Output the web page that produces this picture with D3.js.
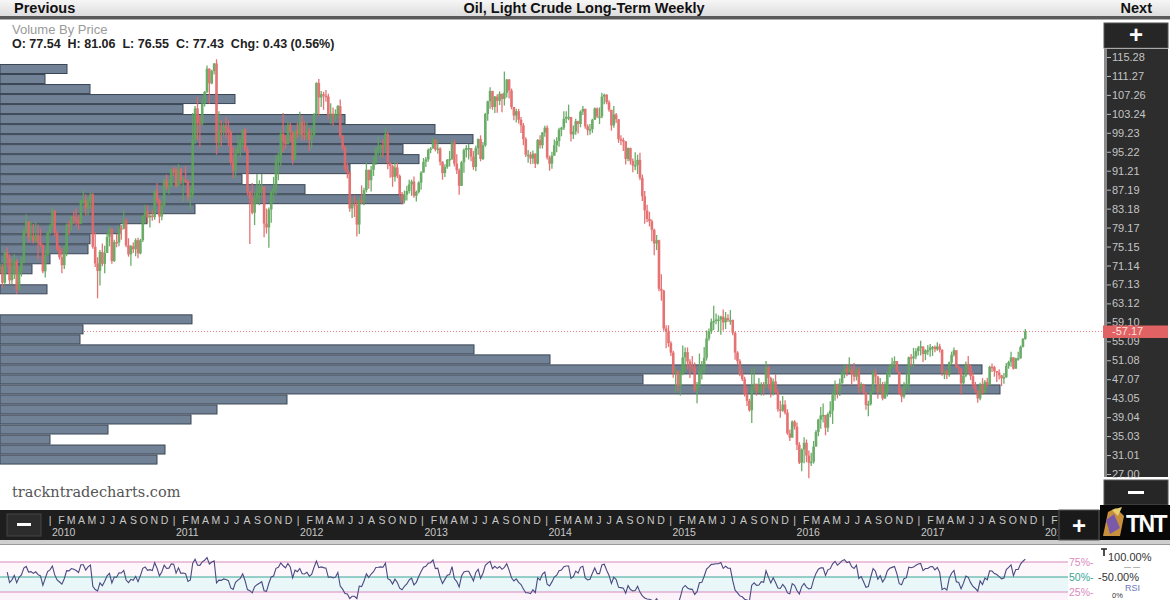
<!DOCTYPE html>
<html><head><meta charset="utf-8">
<script src="https://cdn.jsdelivr.net/npm/d3@7"></script>
<style>
body{margin:0;background:#fff;overflow:hidden}
svg{display:block;font-family:"Liberation Sans",Arial,sans-serif}
</style>
</head><body>
<svg id="chart" width="1170" height="600"></svg>
<script>
// ---------------- DATA ----------------
const chartTitle = "Oil, Light Crude Long-Term Weekly";
const ohlcText = "O: 77.54  H: 81.06  L: 76.55  C: 77.43  Chg: 0.43 (0.56%)";
// weekly bars, one per week starting Friday 2009-08-07
const weeklyClose = [
70.9,67.5,73.9,72.7, 68.0,69.3,72.0,66.0, 69.9,71.8,78.5,80.5,77.0, 77.4,76.4,77.5,76.1, 75.5,69.9,73.4,78.1,
79.4,82.8,78.0,74.5,72.9, 71.2,74.1,79.8,79.7, 81.5,81.2,80.7,80.0, 84.9,84.9,83.2,85.1,86.2, 75.1,71.6,70.0,74.0,
71.5,73.8,77.2,78.9, 72.1,76.1,76.0,79.0,78.9, 80.7,75.4,73.5,75.2, 74.6,76.5,73.7,76.5, 81.6,82.7,81.3,81.7,81.4,
86.9,84.9,81.5,83.8, 89.2,87.8,88.0,91.5,91.4,
88.0,91.5,89.1,89.3, 89.0,85.6,86.2,97.9, 104.4,101.2,101.1,105.4, 107.9,112.8,109.7,112.3,113.9, 97.2,99.7,99.5,100.6,
100.2,99.3,93.0,91.2, 94.9,96.2,97.2,99.9,95.7, 86.9,85.4,82.3,85.4, 86.5,87.2,87.9,80.0,79.2, 83.0,86.8,87.4,93.3,
94.3,99.0,97.7,96.8, 100.9,99.4,93.5,99.7,98.8,
101.6,98.7,98.5,99.6, 97.8,98.7,103.2,109.8, 106.7,107.4,107.1,106.9,103.0, 103.3,102.8,103.1,104.9, 98.5,96.1,91.5,90.9,
83.2,84.1,84.0,79.8,85.0, 84.5,87.1,91.4,89.2, 91.4,92.9,96.0,96.2,96.5, 96.4,99.0,92.9,92.2, 89.9,91.9,90.1,86.3,
84.9,86.1,86.9,88.3,88.9, 85.9,86.7,88.7,90.8,
93.1,93.6,95.6,95.9, 97.8,95.7,95.9,93.1, 90.7,92.0,93.5,93.7,97.2, 92.7,91.3,88.0,93.0, 95.6,96.0,96.0,94.2,92.0,
96.0,97.9,93.7,96.6, 103.2,105.9,108.1,104.7, 106.9,106.0,107.5,106.4,107.7, 110.5,108.2,104.7,102.9, 103.8,102.0,100.8,97.9,
94.6,94.6,93.8,94.8,92.7, 97.7,96.6,99.3,100.3,
94.0,92.7,94.4,96.6,97.5, 99.9,100.3,102.2,102.6, 102.6,98.9,99.5,101.7, 101.1,103.7,104.3,100.6, 99.8,100.0,102.0,104.4,102.7,
102.7,106.9,107.3,105.7, 104.1,100.8,103.1,102.1, 97.9,97.7,97.4,93.7,96.0, 93.3,92.3,92.4,93.5, 89.7,85.8,82.8,81.0,80.5,
78.7,75.8,76.5,66.2, 65.8,57.8,57.1,54.7,
52.7,48.4,48.7,45.6,48.2, 51.7,52.8,50.8,49.8, 49.6,44.8,45.7,48.9, 49.1,51.6,55.7,57.2, 59.2,59.4,59.7,59.7,60.3,
59.1,60.0,59.6,59.6, 56.9,52.7,50.9,48.1,47.1, 43.9,42.5,40.5,45.2, 46.1,44.6,44.7,45.7, 45.5,49.6,47.3,44.6,46.6,
44.3,40.7,40.4,41.7, 40.0,35.6,34.7,38.1,
37.0,33.2,29.4,32.2,33.6, 30.9,29.4,29.6,32.8, 35.9,38.5,39.4,39.5, 36.8,39.7,40.4,43.7,45.9, 44.7,46.2,48.4,49.3,
48.6,49.1,48.0,47.6, 49.0,45.4,46.0,44.2,41.6, 41.8,44.5,48.5,47.6, 44.4,45.9,43.0,44.5,48.2, 49.8,50.4,50.9,48.7,
44.1,43.4,45.7,46.1, 51.7,51.5,51.9,53.0,53.7,
54.0,52.4,53.2,53.2, 53.8,53.9,53.4,54.0, 53.3,48.5,48.8,48.0,50.6, 52.2,53.2,49.6,49.3, 46.2,47.8,50.3,49.8,
47.7,45.8,44.7,43.0,46.0, 44.2,46.5,45.8,49.7, 49.6,48.8,48.5,47.9, 47.3,47.5,49.9,50.7,51.7, 49.3,51.5,51.5,53.9,
55.6,57.17
];
const weeklyHigh = [
71.6,71.5,74.5,75.0, 73.5,72.8,73.5,72.5, 70.8,73.0,78.8,82.0,80.4, 80.5,80.0,80.5,79.8, 79.0,75.6,74.3,78.4,
80.0,83.5,82.5,78.5,75.4, 74.9,75.3,80.1,80.6, 81.7,82.6,83.2,81.9, 85.1,87.1,86.2,85.6,86.6, 86.5,78.2,72.9,74.4,
75.8,75.3,78.1,79.5, 79.1,76.6,77.8,79.6,79.7, 82.9,81.2,76.9,75.5, 76.0,76.9,77.0,76.8, 81.9,84.0,83.9,82.1,83.0,
87.2,88.6,85.3,84.6, 89.7,90.4,89.3,91.6,92.0,
91.9,92.6,91.8,89.9, 92.2,89.3,87.7,103.4, 104.9,106.9,103.0,106.5, 108.1,113.5,112.9,112.6,114.0, 114.8,103.8,101.9,101.2,
102.6,101.8,99.8,96.3, 95.9,98.8,97.9,100.0,100.2, 96.3,86.8,88.6,86.7, 90.5,89.2,90.5,87.8,83.2, 83.4,86.9,89.9,94.6,
95.0,99.8,103.4,98.8, 101.6,101.4,99.5,99.8,101.3,
103.7,103.0,101.6,101.4, 100.3,100.2,103.4,109.9, 110.6,108.1,107.9,108.3,107.5, 105.5,104.6,104.2,105.1, 106.3,98.8,96.6,92.8,
91.0,85.5,86.0,84.9,85.6, 88.1,87.6,92.9,91.3, 92.2,94.2,96.1,98.3,96.8, 97.8,100.4,99.5,92.9, 92.5,93.2,92.9,90.4,
86.7,87.0,88.0,89.3,89.3, 90.0,87.0,89.0,91.1,
93.9,94.1,95.9,96.2, 98.2,97.8,97.8,96.2, 93.2,92.6,93.7,95.4,97.6, 97.8,94.7,91.7,93.3, 95.9,96.6,96.9,96.0,95.4,
96.5,98.0,98.7,97.3, 103.4,106.0,108.9,107.9, 107.0,107.4,108.0,107.4,112.2, 110.6,110.6,108.6,104.3, 104.3,104.3,102.6,101.3,
98.3,95.6,95.2,95.5,94.9, 97.9,98.7,99.4,100.7,
100.8,94.4,95.2,97.8,98.3, 100.3,100.5,103.8,103.8, 105.2,102.6,100.8,102.2, 101.8,104.0,104.9,104.3, 101.0,101.1,102.2,104.6,104.6,
104.6,107.7,107.5,107.4, 106.1,104.0,104.9,103.4, 101.9,98.7,98.2,97.5,96.1, 96.1,93.8,95.1,94.6, 95.0,90.4,86.9,84.0,82.5,
80.9,78.9,77.6,76.6, 69.3,66.0,58.5,58.5,
55.1,53.1,49.6,49.0,48.8, 54.2,53.8,53.8,51.3, 52.0,50.6,46.5,52.5, 50.9,53.9,57.4,57.8, 59.9,62.6,61.0,60.6,60.5,
61.8,61.3,60.8,61.7, 59.7,57.1,53.0,51.3,49.1, 47.6,45.6,42.9,49.3, 49.6,46.1,47.3,46.4, 46.5,50.9,49.9,47.6,47.2,
48.1,45.0,42.5,43.5, 42.6,40.7,36.4,38.3,
38.4,37.9,33.7,32.4,34.8, 34.3,32.0,31.5,34.0, 36.3,38.7,41.2,41.9, 39.0,40.0,42.4,44.3,46.8, 46.1,47.2,48.7,50.2,
50.2,51.7,49.9,50.5, 49.4,49.6,46.4,46.1,44.3, 42.5,44.6,49.0,49.2, 47.8,47.3,46.5,46.6,48.6, 50.1,51.6,51.9,50.6,
48.3,45.2,46.5,48.3, 51.9,52.4,53.7,53.6,54.1,
55.2,53.8,53.4,54.3, 54.5,54.1,54.2,54.9, 54.6,53.4,49.1,49.0,50.8, 52.9,53.8,53.2,50.0, 49.5,48.1,50.8,52.0,
50.1,48.6,46.5,44.7,46.3, 47.3,46.9,47.4,49.9, 50.4,49.9,48.6,49.2, 48.0,48.4,50.5,51.0,52.9, 51.5,51.6,52.9,54.2,
55.8,57.7
];
const weeklyLow = [
69.5,66.5,66.9,70.9, 67.1,67.2,68.3,65.1, 65.9,68.8,71.6,77.8,76.0, 76.5,75.8,76.0,72.4, 75.0,69.5,68.6,73.2,
77.7,79.2,77.3,74.2,72.4, 69.5,70.4,73.1,77.6, 78.4,79.9,79.4,78.6, 80.0,84.1,81.7,81.6,83.2, 74.7,70.8,64.2,66.9,
71.0,69.5,73.9,75.2, 71.5,71.9,75.0,75.2,76.6, 78.8,75.0,73.0,71.1, 73.8,73.1,72.7,73.5, 76.1,80.0,80.1,79.2,80.6,
80.8,84.0,80.1,80.7, 83.5,87.1,86.2,87.7,90.1,
87.6,87.8,88.3,84.6, 88.6,84.8,83.0,85.4, 96.8,97.7,96.2,100.6, 104.8,107.6,105.4,109.5,111.6, 94.6,95.9,96.4,98.6,
98.1,96.4,92.3,89.6, 89.6,94.7,94.1,96.2,95.3, 86.0,75.7,82.0,79.7, 84.2,83.9,85.4,77.1,77.9, 74.9,80.2,84.5,86.1,
89.2,92.2,95.0,95.8, 96.8,97.4,92.5,93.9,98.1,
98.2,97.6,97.6,97.7, 95.4,95.8,98.5,102.8, 102.8,104.7,104.1,105.8,102.1, 101.1,100.7,101.7,102.2, 98.1,95.5,91.0,89.6,
82.5,81.2,81.4,77.3,77.8, 84.1,83.9,86.6,87.4, 86.8,90.1,92.4,94.6,93.9, 94.0,94.9,91.5,89.7, 87.8,88.9,89.6,85.7,
84.1,84.3,84.9,86.4,85.9, 85.5,84.7,86.4,87.2,
91.4,92.0,93.1,94.9, 96.4,95.3,94.8,92.3, 89.3,89.9,91.6,92.1,93.5, 92.1,90.5,86.1,88.3, 90.8,94.0,93.6,93.2,91.4,
91.1,94.6,93.2,93.5, 96.3,101.8,104.3,104.1, 103.4,103.5,105.1,103.6,105.0, 106.7,106.5,104.2,101.9, 101.4,101.2,99.2,96.6,
94.1,92.9,92.6,92.7,91.8, 92.5,95.9,95.9,98.4,
93.6,91.2,91.6,94.6,95.1, 96.3,98.5,99.8,101.3, 101.9,97.4,97.9,98.8, 99.1,100.4,103.0,100.1, 98.7,98.8,99.2,102.1,102.3,
101.1,102.3,105.3,105.3, 103.7,99.7,100.3,101.3, 97.1,96.6,95.4,92.5,93.2, 92.5,90.9,91.3,90.5, 89.2,84.8,80.0,80.3,79.4,
76.3,73.3,74.4,65.7, 63.7,57.3,53.6,53.9,
52.0,47.4,44.2,44.5,43.6, 47.9,48.6,49.1,47.3, 48.7,44.4,42.0,45.4, 47.0,48.3,51.0,55.2, 56.7,57.5,58.7,57.1,56.5,
57.4,57.7,59.2,58.6, 56.4,51.2,50.3,47.7,46.7, 43.4,41.4,40.2,37.8, 44.2,43.6,44.2,43.6, 43.6,45.1,45.1,43.2,43.6,
44.0,40.2,38.9,40.2, 39.6,35.3,34.0,34.7,
36.4,32.1,29.1,27.6,29.3, 29.5,26.1,28.7,29.2, 32.8,35.0,36.6,37.9, 35.2,35.9,39.0,37.6,42.5, 43.0,43.5,46.1,47.3,
47.7,48.5,45.8,46.6, 46.8,44.1,44.4,43.9,40.6, 39.2,41.5,44.1,46.1, 43.0,43.8,42.6,42.9,43.4, 47.5,49.3,49.5,48.5,
43.8,42.2,43.0,45.1, 44.8,49.8,49.6,51.3,52.1,
52.1,50.7,51.1,52.2, 51.8,52.0,52.8,53.1, 52.7,47.8,47.1,47.1,47.6, 50.1,51.9,49.4,48.2, 43.8,45.8,47.5,48.2,
46.9,45.2,44.1,42.1,42.6, 43.8,44.1,45.4,45.9, 48.6,47.6,46.5,47.0, 45.6,46.1,47.4,49.3,49.7, 49.1,49.3,51.0,51.4,
53.8,55.4
];
const lastPrice = 57.17;
const priceTicks = [115.28,111.27,107.26,103.24,99.23,95.22,91.21,87.19,83.18,79.17,75.15,71.14,67.13,63.12,59.10,55.09,51.08,47.07,43.05,39.04,35.03,31.01,27.00];
// volume by price: top price of each bin and relative volume
const vbpBinSize = 2.12;
const vbpTop = [113.80,111.68,109.56,107.44,105.32,103.20,101.08,98.96,96.84,94.72,92.60,90.48,88.36,86.24,84.12,82.00,79.88,77.76,75.64,73.52,
71.40,69.28,67.16,65.04,62.92,60.80,58.68,56.56,54.44,52.32,50.20,48.08,45.96,43.84,41.72,39.60,37.48,35.36,33.24,31.12];
const vbpVolume = [67,45,90,235,183,345,435,473,403,419,350,242,305,403,195,147,120,90,88,50,
32,0,47,0,0,192,83,80,474,550,982,643,1000,287,217,191,108,50,165,157];
const monthLetters = ["|","F","M","A","M","J","J","A","S","O","N","D"];
const rsiLevels = [75,50,25];
const rsiPeriod = 7;

// ---------------- LAYOUT ----------------
const svg = d3.select("#chart");
const W = 1170;

const dates = weeklyClose.map((c,i)=>d3.timeDay.offset(new Date(2009,7,7), 7*i));
const x = d3.scaleTime().domain([new Date(2010,0,1), new Date(2018,0,1)]).range([50,1043]);
const y = d3.scaleLinear().domain([27.00,115.28]).range([474,57]);
const vx = d3.scaleLinear().domain([0,1000]).range([0,1000]);
const ry = d3.scaleLinear().domain([0,100]).range([607,547]);

const defs = svg.append("defs");
const g1 = defs.append("linearGradient").attr("id","topbar").attr("x1",0).attr("y1",0).attr("x2",0).attr("y2",1);
g1.append("stop").attr("offset","0%").attr("stop-color","#f6f6f6");
g1.append("stop").attr("offset","100%").attr("stop-color","#dcdcdc");
defs.append("clipPath").attr("id","plotclip").append("rect").attr("x",0).attr("y",20).attr("width",1102).attr("height",486);
defs.append("clipPath").attr("id","axisclip").append("rect").attr("x",0).attr("y",508).attr("width",1058).attr("height",34);
defs.append("clipPath").attr("id","rsiclip").append("rect").attr("x",0).attr("y",545).attr("width",1068).attr("height",55);

svg.append("rect").attr("width",W).attr("height",600).attr("fill","#fff");

// ---- top bar
svg.append("rect").attr("x",0).attr("y",0).attr("width",W).attr("height",17).attr("fill","url(#topbar)");
svg.append("rect").attr("x",0).attr("y",16).attr("width",W).attr("height",3).attr("fill","#5a5a5a");
svg.append("rect").attr("x",0).attr("y",19).attr("width",W).attr("height",1).attr("fill","#b0b0b0");
const tb = [{t:"Previous",x:14,a:"start"},{t:chartTitle,x:584,a:"middle"},{t:"Next",x:1152,a:"end"}];
svg.selectAll("text.tb").data(tb).join("text").attr("class","tb")
  .attr("x",d=>d.x).attr("y",13).attr("text-anchor",d=>d.a)
  .attr("font-size",14.5).attr("font-weight","bold").attr("fill","#111").text(d=>d.t);

// ---- main plot
const main = svg.append("g").attr("clip-path","url(#plotclip)");
main.append("line").attr("x1",0).attr("x2",1102).attr("y1",y(lastPrice)).attr("y2",y(lastPrice))
  .attr("stroke","#e88080").attr("stroke-width",1).attr("stroke-dasharray","1,2");
main.append("g").selectAll("rect").data(vbpTop.map((t,i)=>({top:t, vol:vbpVolume[i]})).filter(d=>d.vol>0))
  .join("rect")
  .attr("x",0).attr("y",d=>y(d.top)+0.5)
  .attr("width",d=>vx(d.vol))
  .attr("height",d=>y(d.top-vbpBinSize)-y(d.top)-1)
  .attr("fill","#718296").attr("stroke","#3b4655").attr("stroke-width",1);
const bars = weeklyClose.map((c,i)=>{
  const o = i>0?weeklyClose[i-1]:c;
  return {date:dates[i], open:o, close:c, high:Math.max(weeklyHigh[i],o,c), low:Math.min(weeklyLow[i],o,c)};
});
const col = d=>d.close>=d.open?"#5fa65c":"#e36868";
const pb = main.append("g").attr("opacity",0.92);
pb.selectAll("line").data(bars).join("line")
  .attr("x1",d=>x(d.date)).attr("x2",d=>x(d.date))
  .attr("y1",d=>y(d.high)).attr("y2",d=>y(d.low))
  .attr("stroke",col).attr("stroke-width",1.3);
pb.selectAll("rect").data(bars).join("rect")
  .attr("x",d=>x(d.date)-1.3).attr("width",2.6)
  .attr("y",d=>y(Math.max(d.open,d.close)))
  .attr("height",d=>Math.max(1.5,Math.abs(y(d.open)-y(d.close))))
  .attr("fill",col);

// header texts
svg.append("text").attr("x",12).attr("y",34).attr("font-size",13).attr("fill","#9a9a9a").text("Volume By Price");
svg.append("text").attr("x",12).attr("y",48).attr("font-size",12.5).attr("font-weight","bold").attr("fill","#222")
  .style("white-space","pre").text(ohlcText);
svg.append("text").attr("x",12).attr("y",497).attr("font-family","'DejaVu Serif',serif").attr("font-size",14.5)
  .attr("fill","#555").text("trackntradecharts.com");

// ---- price axis panel
svg.append("rect").attr("x",1103).attr("y",20).attr("width",67).attr("height",488).attr("fill","#fff");
svg.append("rect").attr("x",1104).attr("y",23).attr("width",64).attr("height",25).attr("fill","#262626").attr("stroke","#555");
svg.append("text").attr("x",1136).attr("y",43).attr("text-anchor","middle").attr("font-size",24).attr("font-weight","bold").attr("fill","#fff").text("+");
svg.append("rect").attr("x",1104).attr("y",49).attr("width",64).attr("height",428).attr("fill","#2d2d2d");
svg.append("rect").attr("x",1104).attr("y",49).attr("width",3).attr("height",428).attr("fill","#8a8a8a");
const yAxis = svg.append("g").attr("transform","translate(1107,0)")
  .call(d3.axisRight(y).tickValues(priceTicks).tickSize(4).tickPadding(1).tickFormat(d3.format(".2f")));
yAxis.select(".domain").remove();
yAxis.selectAll("line").attr("stroke","#bbb");
yAxis.selectAll("text").attr("fill","#c4c4c4").attr("font-size",11).attr("font-family","'Liberation Sans',Arial,sans-serif");
svg.append("rect").attr("x",1103).attr("y",y(lastPrice)-6).attr("width",65).attr("height",12.5).attr("fill","#e06262");
svg.append("text").attr("x",1112).attr("y",y(lastPrice)+4).attr("font-size",11).attr("fill","#fde0e0").text("-" + lastPrice.toFixed(2));
svg.append("rect").attr("x",1104).attr("y",480).attr("width",64).attr("height",25).attr("fill","#262626").attr("stroke","#555");
svg.append("rect").attr("x",1128).attr("y",491).attr("width",16).attr("height",3).attr("fill","#fff");

// ---- time axis
svg.append("rect").attr("x",0).attr("y",510).attr("width",1100).attr("height",30).attr("fill","#1e1e1e");
svg.append("rect").attr("x",0).attr("y",540).attr("width",1170).attr("height",4).attr("fill","#cfcfcf");
svg.append("rect").attr("x",0).attr("y",544).attr("width",1170).attr("height",1).attr("fill","#999");
const tg = svg.append("g").attr("clip-path","url(#axisclip)");
const months = d3.timeMonth.range(new Date(2009,7,1), new Date(2018,3,1)).filter(d=>x(d)>45);
tg.selectAll("text.m").data(months).join("text").attr("class","m")
  .attr("x",d=>x(d)+(d.getMonth()===0?0:1)).attr("y",524).attr("text-anchor","middle")
  .attr("font-size",10.5).attr("fill","#c8c8c8").text(d=>monthLetters[d.getMonth()]);
tg.selectAll("text.yr").data(months.filter(d=>d.getMonth()===0)).join("text").attr("class","yr")
  .attr("x",d=>x(d)+2).attr("y",536).attr("font-size",10.5).attr("fill","#c8c8c8").text(d=>d.getFullYear());
svg.append("rect").attr("x",7).attr("y",514).attr("width",34).attr("height",22).attr("fill","#2c2c2c").attr("stroke","#444");
svg.append("rect").attr("x",17).attr("y",523).attr("width",14).attr("height",3).attr("fill","#fff");
svg.append("rect").attr("x",1059).attr("y",510).attr("width",40).attr("height",30).attr("fill","#1a1a1a").attr("stroke","#555");
svg.append("text").attr("x",1079).attr("y",534).attr("text-anchor","middle").attr("font-size",24).attr("font-weight","bold").attr("fill","#fff").text("+");
svg.append("rect").attr("x",1100).attr("y",505).attr("width",70).attr("height",35).attr("fill","#080808");
svg.append("path").attr("d","M1103,536 L1108,512 L1116,508 L1124,516 L1120,536 Z").attr("fill","#c8903c");
svg.append("path").attr("d","M1106,520 L1114,514 L1120,528 L1110,534 Z").attr("fill","#7a5aa8");
svg.append("path").attr("d","M1112,510 L1122,507 L1118,516 Z").attr("fill","#e8d070");
svg.append("text").attr("x",1146).attr("y",532).attr("text-anchor","middle").attr("font-size",23).attr("font-weight","bold")
  .attr("letter-spacing",-1.5).attr("fill","#fff").text("TNT");

// ---- RSI panel
const rsiG = svg.append("g");
rsiG.append("rect").attr("x",0).attr("y",ry(75)).attr("width",1068).attr("height",ry(50)-ry(75)).attr("fill","#fdf6fb");
rsiG.append("rect").attr("x",0).attr("y",ry(50)).attr("width",1068).attr("height",ry(25)-ry(50)).attr("fill","#e9f7f8");
rsiG.append("rect").attr("x",0).attr("y",ry(25)).attr("width",1068).attr("height",600-ry(25)).attr("fill","#fcf3fa");
const lvlColor = {75:"#d98ac0",50:"#3aa597",25:"#d98ac0"};
rsiG.selectAll("line.lvl").data(rsiLevels).join("line").attr("class","lvl")
  .attr("x1",0).attr("x2",1068).attr("y1",d=>ry(d)).attr("y2",d=>ry(d))
  .attr("stroke",d=>lvlColor[d]).attr("stroke-width",1.2);
rsiG.selectAll("text.lvl").data(rsiLevels).join("text").attr("class","lvl")
  .attr("x",1069).attr("y",d=>ry(d)+4).attr("font-size",10.5).attr("fill",d=>lvlColor[d]).text(d=>d+"%-");
// RSI (Wilder) from weekly closes
const rsi = [];
let ag=0, al=0;
for(let i=1;i<weeklyClose.length;i++){
  const ch = weeklyClose[i]-weeklyClose[i-1];
  const gn = Math.max(ch,0), ls = Math.max(-ch,0);
  if(i<=rsiPeriod){ ag+=gn/rsiPeriod; al+=ls/rsiPeriod; }
  else { ag=(ag*(rsiPeriod-1)+gn)/rsiPeriod; al=(al*(rsiPeriod-1)+ls)/rsiPeriod; }
  if(i>=3){ rsi.push({date:dates[i], v: al===0?100:100-100/(1+ag/al)}); }
}
svg.append("g").attr("clip-path","url(#rsiclip)").append("path").datum(rsi)
  .attr("d",d3.line().x(d=>x(d.date)).y(d=>ry(d.v)))
  .attr("fill","none").attr("stroke","#4a4a80").attr("stroke-width",1.1);
svg.append("path").attr("d","M1101,549 L1107,549 M1104,549 L1104,556").attr("stroke","#222").attr("stroke-width",1.6);
svg.append("text").attr("x",1108).attr("y",561).attr("font-size",11).attr("fill","#333").text("100.00%");
svg.append("text").attr("x",1124).attr("y",569).attr("font-size",7).attr("fill","#777").text("— —");
svg.append("text").attr("x",1098).attr("y",581).attr("font-size",11).attr("fill","#333").text("-50.00%");
svg.append("text").attr("x",1125).attr("y",591).attr("font-size",9).attr("fill","#6a7ab8").text("RSI");
svg.append("text").attr("x",1112).attr("y",598).attr("font-size",7.5).attr("fill","#333").text("0%");
</script>
</body></html>
